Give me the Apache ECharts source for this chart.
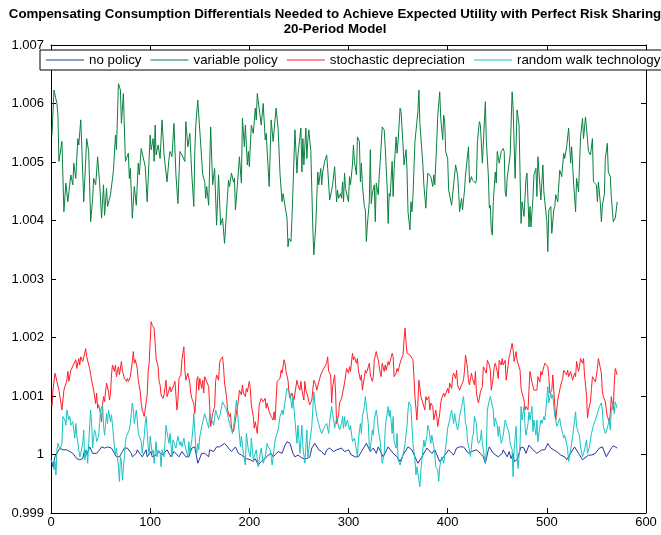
<!DOCTYPE html>
<html><head><meta charset="utf-8">
<script src="https://cdn.jsdelivr.net/npm/echarts@6/dist/echarts.min.js"></script>
<style>html,body{margin:0;padding:0;background:#fff}#c{width:661px;height:535px}</style>
</head><body><div id="c"></div>
<script>
const titleLines = ['Compensating Consumption Differentials Needed to Achieve Expected Utility with Perfect Risk Sharing', '20-Period Model'];
const seriesNames = ['no policy', 'variable policy', 'stochastic depreciation', 'random walk technology'];
const xTicks = [0, 100, 200, 300, 400, 500, 600];
const yTicks = [0.999, 1, 1.001, 1.002, 1.003, 1.004, 1.005, 1.006, 1.007];

const noPolicy = [[0,0.99991],[2,0.99979],[4,0.99996],[6,0.99999],[9,1.00011],[12,1.00008],[16,1.00008],[19,1.00005],[22,1.00002],[26,0.99993],[29,0.99991],[32,0.99993],[34,1.00008],[36,0.99999],[39,1.00013],[42,1.00002],[46,1.00002],[49,1.00008],[51,1.00013],[54,1.00011],[57,1.00013],[61,1.00011],[64,1.00002],[66,0.99996],[69,0.99996],[72,1.00005],[74,1.00011],[77,1.00011],[81,1.00002],[82,0.99996],[86,1.00002],[87,1.00008],[92,0.99996],[96,1.00008],[97,0.99996],[101,1.00005],[102,0.99996],[106,0.99999],[109,1.00005],[112,0.99999],[117,1.00008],[121,0.99996],[124,1.00005],[129,0.99996],[132,1.00005],[136,0.99996],[139,0.99996],[142,1.00011],[145,1.00013],[148,0.99985],[150,0.99985],[152,1.00002],[155,1.00002],[159,0.99996],[160,1.00008],[164,1.00005],[167,1.00013],[170,1.00013],[175,1.00019],[179,1.00011],[182,1.00005],[186,1.00013],[189,1.00002],[192,0.99999],[194,0.99996],[197,0.99993],[201,0.99991],[204,0.99988],[206,0.99993],[209,0.99982],[212,0.99988],[216,0.99993],[219,0.99999],[222,1.00002],[224,0.99996],[229,1.00005],[233,1.00002],[236,1.00016],[238,1.00022],[241,1.00019],[244,1.00002],[246,0.99996],[249,0.99999],[254,0.99993],[258,0.99993],[261,0.99996],[263,1.00011],[266,1.00019],[270,1.00008],[273,1.00005],[276,0.99999],[278,1.00008],[281,1.00011],[285,1.00005],[288,1.00008],[293,1.00011],[296,1.00005],[300,1.00008],[303,0.99999],[307,0.99996],[310,0.99996],[313,1.00005],[318,1.00019],[322,1.00005],[325,1.00011],[328,1.00002],[330,1.00013],[335,0.99996],[340,1.00013],[345,1.00002],[349,0.99996],[352,0.99988],[355,0.99999],[360,1.00013],[364,1.00008],[367,0.99996],[370,0.99985],[374,0.99996],[379,1.00011],[384,1.00002],[387,1.00008],[392,0.99988],[396,0.99996],[401,1.00008],[406,0.99999],[409,1.00011],[412,1.00013],[416,1.00013],[421,1.00002],[424,1.00005],[429,1.00008],[433,1.00002],[436,0.99996],[438,0.99985],[441,1.00008],[442,1.00013],[446,1.00002],[451,0.99996],[455,1.00002],[456,1.00008],[460,0.99996],[462,1.00005],[464,0.99993],[466,1.00002],[467,0.99988],[470,0.99991],[474,1.00013],[477,1.00011],[479,1.00002],[482,1.00016],[486,1.00008],[490,1.00002],[491,0.99999],[495,1.00008],[498,1.00008],[501,1.00019],[504,1.00011],[506,1.00013],[510,1.00005],[514,0.99999],[518,0.99996],[520,0.99991],[524,1.00002],[528,1.00013],[532,1.00002],[536,0.99991],[538,0.99991],[542,0.99999],[545,0.99999],[549,1.00002],[553,1.00011],[556,1.00013],[560,0.99996],[564,1.00008],[567,1.00015],[571,1.00011]];

const variablePolicy = [[1,1.00546],[3,1.00623],[5,1.00623],[6,1.00600],[7,1.00580],[8,1.00501],[11,1.00535],[13,1.00415],[15,1.00464],[17,1.00432],[20,1.00478],[22,1.00461],[23,1.00498],[25,1.00472],[27,1.00540],[28,1.00529],[30,1.00572],[31,1.00529],[33,1.00432],[36,1.00540],[38,1.00518],[40,1.00398],[42,1.00438],[43,1.00472],[45,1.00461],[46,1.00483],[47,1.00509],[49,1.00466],[51,1.00404],[53,1.00461],[54,1.00409],[56,1.00455],[57,1.00424],[60,1.00444],[62,1.00446],[63,1.00486],[65,1.00546],[66,1.00521],[68,1.00634],[70,1.00623],[71,1.00566],[72,1.00569],[73,1.00617],[75,1.00501],[77,1.00498],[78,1.00515],[79,1.00472],[80,1.00489],[82,1.00404],[84,1.00458],[86,1.00426],[88,1.00498],[89,1.00478],[91,1.00523],[93,1.00526],[95,1.00492],[97,1.00432],[100,1.00546],[101,1.00521],[103,1.00540],[104,1.00501],[105,1.00563],[106,1.00512],[108,1.00529],[110,1.00506],[112,1.00572],[114,1.00512],[117,1.00466],[119,1.00506],[120,1.00518],[122,1.00509],[124,1.00566],[126,1.00478],[128,1.00429],[130,1.00518],[132,1.00512],[134,1.00509],[135,1.00501],[136,1.00569],[138,1.00526],[140,1.00549],[142,1.00478],[144,1.00424],[145,1.00518],[146,1.00563],[148,1.00606],[153,1.00478],[155,1.00466],[156,1.00438],[157,1.00458],[159,1.00426],[161,1.00560],[163,1.00461],[165,1.00489],[167,1.00392],[169,1.00478],[171,1.00392],[173,1.00404],[174,1.00401],[175,1.00361],[177,1.00415],[179,1.00469],[180,1.00458],[182,1.00481],[184,1.00466],[185,1.00472],[186,1.00418],[188,1.00461],[190,1.00509],[192,1.00464],[193,1.00575],[195,1.00526],[196,1.00563],[198,1.00495],[199,1.00518],[200,1.00492],[202,1.00563],[204,1.00549],[206,1.00592],[207,1.00572],[208,1.00617],[210,1.00615],[212,1.00563],[214,1.00600],[216,1.00538],[217,1.00549],[220,1.00458],[222,1.00572],[224,1.00535],[225,1.00538],[227,1.00592],[229,1.00558],[231,1.00478],[233,1.00432],[234,1.00446],[236,1.00446],[238,1.00404],[239,1.00355],[240,1.00369],[242,1.00364],[243,1.00404],[246,1.00555],[248,1.00481],[249,1.00512],[252,1.00558],[253,1.00483],[254,1.00540],[255,1.00495],[257,1.00558],[258,1.00506],[259,1.00538],[260,1.00555],[262,1.00518],[264,1.00387],[265,1.00341],[267,1.00392],[269,1.00483],[270,1.00461],[272,1.00489],[273,1.00461],[274,1.00483],[276,1.00501],[278,1.00512],[279,1.00489],[281,1.00435],[283,1.00452],[284,1.00461],[286,1.00492],[288,1.00432],[289,1.00452],[290,1.00438],[292,1.00446],[293,1.00438],[294,1.00466],[295,1.00432],[296,1.00481],[297,1.00455],[299,1.00452],[300,1.00432],[301,1.00475],[302,1.00461],[304,1.00495],[305,1.00529],[306,1.00501],[308,1.00478],[309,1.00543],[311,1.00535],[312,1.00466],[313,1.00498],[314,1.00461],[316,1.00424],[317,1.00418],[318,1.00364],[319,1.00392],[321,1.00432],[322,1.00521],[323,1.00429],[324,1.00446],[325,1.00446],[326,1.00461],[327,1.00398],[328,1.00464],[330,1.00444],[331,1.00478],[332,1.00501],[333,1.00498],[334,1.00560],[336,1.00555],[337,1.00526],[339,1.00455],[340,1.00395],[341,1.00446],[342,1.00441],[344,1.00501],[345,1.00441],[346,1.00489],[348,1.00543],[349,1.00515],[350,1.00535],[352,1.00592],[353,1.00586],[355,1.00529],[356,1.00495],[358,1.00521],[359,1.00486],[360,1.00415],[362,1.00384],[363,1.00432],[364,1.00415],[365,1.00441],[366,1.00438],[367,1.00535],[369,1.00569],[370,1.00586],[371,1.00623],[372,1.00566],[373,1.00569],[375,1.00495],[376,1.00461],[377,1.00441],[378,1.00421],[379,1.00455],[380,1.00481],[382,1.00483],[383,1.00475],[385,1.00458],[386,1.00478],[387,1.00461],[389,1.00535],[390,1.00580],[392,1.00620],[393,1.00575],[395,1.00538],[396,1.00580],[397,1.00569],[398,1.00518],[400,1.00506],[401,1.00452],[402,1.00449],[404,1.00426],[405,1.00444],[407,1.00441],[408,1.00495],[410,1.00478],[411,1.00452],[412,1.00415],[414,1.00438],[415,1.00418],[417,1.00452],[418,1.00478],[420,1.00478],[421,1.00526],[422,1.00464],[424,1.00475],[425,1.00469],[426,1.00472],[428,1.00464],[429,1.00469],[430,1.00535],[432,1.00569],[433,1.00563],[435,1.00498],[436,1.00498],[438,1.00603],[439,1.00535],[441,1.00478],[442,1.00421],[443,1.00426],[444,1.00384],[445,1.00375],[446,1.00432],[448,1.00483],[449,1.00464],[450,1.00518],[452,1.00498],[454,1.00518],[456,1.00523],[457,1.00518],[458,1.00449],[459,1.00441],[460,1.00472],[463,1.00512],[465,1.00620],[466,1.00592],[468,1.00472],[470,1.00589],[472,1.00563],[474,1.00395],[475,1.00432],[477,1.00407],[479,1.00472],[480,1.00481],[482,1.00389],[483,1.00424],[484,1.00389],[486,1.00438],[487,1.00478],[489,1.00489],[490,1.00441],[491,1.00509],[494,1.00435],[496,1.00495],[497,1.00449],[498,1.00452],[500,1.00398],[501,1.00347],[502,1.00418],[504,1.00424],[505,1.00378],[507,1.00418],[508,1.00424],[509,1.00444],[511,1.00432],[513,1.00486],[515,1.00475],[517,1.00515],[518,1.00506],[520,1.00526],[522,1.00558],[524,1.00498],[525,1.00526],[527,1.00464],[528,1.00461],[529,1.00415],[530,1.00472],[532,1.00449],[534,1.00543],[535,1.00540],[536,1.00575],[537,1.00540],[539,1.00577],[540,1.00558],[542,1.00518],[544,1.00512],[546,1.00540],[547,1.00466],[548,1.00466],[550,1.00461],[551,1.00432],[552,1.00466],[554,1.00429],[555,1.00398],[556,1.00426],[558,1.00444],[559,1.00506],[561,1.00532],[562,1.00483],[564,1.00475],[565,1.00441],[567,1.00398],[569,1.00404],[571,1.00432]];

const stochasticDepreciation = [[1,1.00082],[2,1.00110],[4,1.00139],[6,1.00125],[8,1.00110],[11,1.00076],[13,1.00110],[16,1.00127],[17,1.00142],[18,1.00125],[20,1.00144],[22,1.00144],[25,1.00162],[26,1.00147],[28,1.00164],[29,1.00153],[30,1.00167],[32,1.00159],[34,1.00173],[35,1.00181],[36,1.00167],[39,1.00147],[41,1.00127],[43,1.00110],[45,1.00087],[46,1.00105],[47,1.00079],[48,1.00085],[50,1.00070],[51,1.00056],[52,1.00085],[53,1.00099],[54,1.00090],[55,1.00107],[56,1.00122],[58,1.00107],[59,1.00093],[60,1.00105],[61,1.00136],[62,1.00153],[64,1.00142],[65,1.00153],[66,1.00133],[67,1.00142],[68,1.00150],[69,1.00136],[71,1.00159],[72,1.00144],[74,1.00130],[76,1.00125],[77,1.00130],[78,1.00125],[80,1.00133],[82,1.00159],[83,1.00176],[84,1.00156],[85,1.00162],[87,1.00147],[88,1.00127],[90,1.00107],[91,1.00087],[92,1.00076],[93,1.00076],[94,1.00065],[96,1.00065],[97,1.00102],[98,1.00142],[99,1.00156],[100,1.00193],[101,1.00227],[102,1.00221],[104,1.00216],[105,1.00190],[106,1.00164],[108,1.00150],[109,1.00125],[110,1.00119],[111,1.00102],[113,1.00096],[114,1.00102],[116,1.00127],[117,1.00099],[118,1.00096],[120,1.00116],[121,1.00107],[122,1.00105],[124,1.00119],[125,1.00125],[127,1.00076],[128,1.00093],[129,1.00130],[131,1.00136],[132,1.00162],[133,1.00162],[134,1.00184],[135,1.00144],[136,1.00127],[138,1.00139],[140,1.00122],[141,1.00105],[142,1.00096],[144,1.00087],[145,1.00070],[146,1.00093],[147,1.00127],[148,1.00133],[149,1.00110],[150,1.00130],[152,1.00113],[153,1.00127],[154,1.00105],[155,1.00133],[156,1.00130],[157,1.00133],[159,1.00116],[160,1.00082],[161,1.00048],[163,1.00070],[164,1.00076],[165,1.00082],[166,1.00125],[167,1.00136],[169,1.00127],[170,1.00156],[171,1.00162],[173,1.00167],[174,1.00150],[175,1.00122],[177,1.00099],[178,1.00076],[180,1.00065],[181,1.00070],[182,1.00045],[184,1.00039],[185,1.00048],[186,1.00050],[188,1.00082],[189,1.00093],[190,1.00110],[192,1.00102],[193,1.00119],[194,1.00105],[196,1.00099],[197,1.00113],[198,1.00107],[200,1.00125],[201,1.00113],[202,1.00085],[204,1.00065],[205,1.00045],[206,1.00056],[208,1.00036],[209,1.00059],[210,1.00085],[212,1.00096],[213,1.00093],[214,1.00090],[216,1.00096],[217,1.00079],[218,1.00088],[220,1.00073],[221,1.00076],[222,1.00065],[224,1.00059],[225,1.00073],[226,1.00059],[228,1.00125],[229,1.00122],[231,1.00130],[232,1.00144],[233,1.00139],[235,1.00162],[236,1.00156],[237,1.00142],[239,1.00127],[240,1.00105],[241,1.00096],[243,1.00105],[244,1.00099],[245,1.00093],[247,1.00096],[248,1.00127],[249,1.00119],[251,1.00110],[252,1.00125],[253,1.00110],[255,1.00093],[256,1.00125],[257,1.00110],[259,1.00099],[260,1.00090],[261,1.00085],[263,1.00093],[264,1.00110],[265,1.00127],[267,1.00119],[268,1.00110],[270,1.00107],[271,1.00130],[272,1.00136],[274,1.00144],[275,1.00147],[276,1.00142],[278,1.00156],[279,1.00167],[280,1.00142],[282,1.00136],[283,1.00088],[284,1.00116],[286,1.00136],[287,1.00105],[288,1.00053],[290,1.00068],[291,1.00088],[293,1.00096],[295,1.00093],[296,1.00122],[298,1.00147],[300,1.00139],[301,1.00150],[302,1.00142],[304,1.00173],[305,1.00162],[306,1.00167],[308,1.00156],[309,1.00164],[310,1.00144],[312,1.00127],[313,1.00136],[314,1.00110],[316,1.00133],[317,1.00144],[318,1.00139],[320,1.00150],[321,1.00156],[322,1.00136],[324,1.00125],[325,1.00133],[326,1.00162],[328,1.00176],[329,1.00167],[330,1.00162],[332,1.00139],[333,1.00133],[334,1.00156],[336,1.00142],[337,1.00153],[338,1.00144],[340,1.00159],[341,1.00153],[342,1.00156],[344,1.00173],[345,1.00167],[346,1.00133],[348,1.00139],[349,1.00147],[350,1.00142],[352,1.00156],[353,1.00162],[355,1.00170],[356,1.00196],[357,1.00216],[358,1.00193],[359,1.00173],[361,1.00170],[362,1.00170],[363,1.00167],[365,1.00162],[366,1.00133],[367,1.00099],[369,1.00059],[370,1.00088],[371,1.00127],[373,1.00099],[374,1.00102],[375,1.00088],[377,1.00076],[378,1.00099],[379,1.00093],[381,1.00099],[382,1.00076],[383,1.00088],[385,1.00082],[386,1.00059],[388,1.00076],[389,1.00065],[390,1.00048],[392,1.00070],[393,1.00088],[394,1.00096],[396,1.00105],[397,1.00099],[398,1.00102],[400,1.00113],[401,1.00105],[402,1.00122],[404,1.00113],[405,1.00133],[406,1.00139],[408,1.00130],[409,1.00144],[410,1.00119],[412,1.00110],[413,1.00110],[414,1.00119],[416,1.00127],[417,1.00144],[418,1.00170],[420,1.00147],[421,1.00125],[422,1.00119],[424,1.00139],[425,1.00130],[427,1.00119],[428,1.00142],[429,1.00105],[431,1.00088],[432,1.00096],[433,1.00107],[435,1.00116],[436,1.00150],[437,1.00153],[439,1.00139],[440,1.00161],[442,1.00153],[443,1.00144],[444,1.00110],[446,1.00133],[447,1.00150],[448,1.00156],[450,1.00142],[451,1.00130],[452,1.00161],[454,1.00153],[455,1.00164],[456,1.00153],[458,1.00161],[459,1.00127],[460,1.00139],[462,1.00167],[463,1.00173],[465,1.00190],[466,1.00179],[467,1.00159],[469,1.00176],[470,1.00161],[471,1.00159],[473,1.00144],[474,1.00113],[475,1.00105],[477,1.00093],[478,1.00076],[479,1.00082],[481,1.00076],[482,1.00110],[483,1.00142],[485,1.00124],[486,1.00127],[487,1.00110],[489,1.00113],[490,1.00110],[491,1.00133],[493,1.00124],[494,1.00142],[495,1.00136],[497,1.00150],[498,1.00156],[499,1.00159],[501,1.00150],[502,1.00133],[503,1.00105],[505,1.00110],[506,1.00136],[507,1.00110],[509,1.00059],[510,1.00076],[511,1.00093],[513,1.00110],[514,1.00119],[516,1.00130],[517,1.00144],[518,1.00142],[520,1.00136],[521,1.00144],[522,1.00133],[524,1.00142],[525,1.00139],[526,1.00127],[528,1.00139],[529,1.00133],[530,1.00159],[532,1.00142],[533,1.00150],[534,1.00164],[536,1.00156],[537,1.00164],[538,1.00136],[540,1.00102],[541,1.00062],[542,1.00076],[544,1.00090],[545,1.00113],[546,1.00133],[548,1.00136],[549,1.00124],[551,1.00147],[552,1.00164],[553,1.00167],[555,1.00139],[556,1.00107],[557,1.00099],[559,1.00090],[560,1.00076],[561,1.00065],[563,1.00056],[564,1.00070],[565,1.00099],[567,1.00076],[568,1.00122],[569,1.00147],[571,1.00136]];

const randomWalkTechnology = [[0,0.99991],[2,0.99985],[3,0.99974],[4,0.99988],[5,0.99965],[6,1.00008],[7,1.00019],[9,1.00008],[11,1.00019],[12,1.00065],[14,1.00059],[15,1.00050],[16,1.00076],[18,1.00059],[19,1.00065],[20,1.00050],[22,1.00056],[23,1.00042],[24,1.00028],[25,1.00053],[26,1.00033],[28,1.00008],[29,0.99996],[30,1.00002],[32,1.00019],[33,1.00042],[34,0.99991],[36,1.00008],[37,0.99985],[38,1.00019],[40,1.00076],[41,1.00053],[42,1.00011],[43,1.00031],[44,1.00042],[45,1.00036],[46,1.00022],[48,1.00031],[49,1.00053],[50,1.00076],[52,1.00085],[53,1.00050],[54,1.00033],[56,1.00070],[57,1.00053],[58,1.00076],[60,1.00056],[61,1.00068],[62,1.00050],[64,1.00013],[65,0.99999],[66,1.00011],[68,0.99979],[69,0.99954],[70,0.99996],[71,0.99988],[72,0.99956],[74,0.99996],[75,1.00019],[76,1.00031],[78,1.00028],[79,1.00042],[80,1.00053],[82,1.00088],[83,1.00076],[84,1.00053],[86,1.00076],[87,1.00059],[88,1.00036],[90,1.00039],[91,1.00022],[92,1.00002],[94,1.00031],[95,1.00053],[96,1.00065],[98,1.00013],[99,0.99999],[100,1.00031],[102,1.00002],[103,1.00008],[104,0.99985],[106,1.00022],[107,0.99996],[108,1.00008],[110,1.00002],[111,0.99979],[112,1.00008],[114,0.99996],[115,1.00022],[116,1.00050],[118,1.00028],[119,1.00019],[120,1.00036],[122,0.99996],[123,1.00025],[124,1.00028],[126,1.00011],[127,1.00022],[128,1.00031],[130,1.00016],[131,1.00022],[132,1.00013],[134,1.00028],[135,1.00016],[136,1.00019],[138,0.99996],[139,1.00022],[140,1.00002],[142,1.00025],[143,1.00042],[144,1.00070],[146,1.00011],[147,1.00002],[148,1.00019],[149,1.00008],[150,1.00030],[152,1.00048],[155,1.00070],[159,1.00045],[160,1.00070],[162,1.00059],[164,1.00050],[166,1.00076],[169,1.00059],[170,1.00065],[173,1.00090],[175,1.00093],[177,1.00076],[180,1.00053],[182,1.00042],[183,1.00036],[185,1.00059],[187,1.00093],[189,1.00053],[191,1.00013],[192,1.00031],[194,1.00002],[196,0.99982],[197,1.00036],[199,1.00008],[201,0.99996],[202,1.00028],[204,0.99991],[206,0.99988],[207,1.00008],[209,0.99979],[211,1.00002],[212,1.00011],[214,0.99985],[216,0.99996],[218,1.00019],[219,1.00013],[221,1.00008],[223,0.99982],[224,0.99996],[226,1.00025],[229,1.00042],[231,1.00065],[233,1.00076],[234,1.00068],[238,1.00113],[239,1.00113],[241,1.00105],[243,1.00079],[244,1.00099],[246,1.00059],[248,1.00019],[249,1.00050],[251,1.00002],[253,1.00050],[254,1.00013],[256,0.99985],[258,1.00042],[259,0.99996],[261,0.99996],[263,1.00048],[265,1.00107],[266,1.00088],[268,1.00065],[270,1.00053],[271,1.00045],[273,1.00036],[275,1.00033],[276,1.00048],[278,1.00053],[280,1.00036],[281,1.00056],[283,1.00082],[285,1.00059],[286,1.00045],[288,1.00062],[290,1.00065],[291,1.00042],[293,1.00053],[294,1.00065],[295,1.00045],[296,1.00065],[297,1.00048],[299,1.00059],[300,1.00050],[301,1.00042],[302,1.00050],[304,1.00022],[305,1.00019],[306,1.00028],[308,1.00008],[309,0.99996],[310,1.00025],[312,1.00053],[313,1.00036],[314,1.00065],[316,1.00082],[317,1.00099],[318,1.00082],[320,1.00053],[321,1.00013],[322,1.00008],[324,1.00042],[325,1.00033],[326,1.00059],[328,1.00076],[329,1.00065],[330,1.00042],[332,1.00022],[333,1.00002],[334,0.99985],[336,1.00002],[337,1.00042],[338,1.00059],[340,1.00082],[341,1.00065],[342,1.00076],[344,1.00036],[345,1.00065],[346,1.00022],[348,1.00011],[349,1.00036],[350,0.99991],[352,0.99982],[353,0.99985],[355,0.99999],[356,1.00008],[357,1.00019],[359,1.00048],[360,1.00076],[361,1.00090],[363,1.00082],[364,1.00048],[365,1.00019],[367,0.99991],[368,0.99965],[369,0.99979],[371,0.99956],[372,0.99945],[373,0.99974],[375,1.00008],[376,1.00025],[377,1.00013],[379,1.00031],[380,1.00050],[381,1.00045],[383,1.00019],[384,1.00033],[386,1.00013],[387,1.00002],[388,0.99979],[390,0.99974],[391,0.99954],[392,0.99979],[394,0.99996],[395,0.99996],[396,0.99985],[398,1.00013],[399,1.00028],[400,1.00045],[402,1.00059],[403,1.00070],[404,1.00076],[406,1.00053],[407,1.00070],[408,1.00059],[410,1.00042],[411,1.00050],[412,1.00065],[414,1.00082],[415,1.00090],[416,1.00099],[418,1.00053],[419,1.00048],[420,1.00022],[422,1.00008],[423,0.99996],[425,1.00031],[426,1.00036],[427,1.00065],[429,1.00053],[430,1.00025],[431,1.00019],[433,1.00025],[434,1.00042],[435,1.00019],[437,0.99996],[438,0.99985],[439,1.00008],[440,1.00076],[442,1.00093],[443,1.00099],[444,1.00096],[446,1.00076],[447,1.00048],[448,1.00062],[450,1.00050],[451,1.00031],[452,1.00048],[454,1.00019],[455,1.00025],[456,1.00033],[458,1.00059],[459,1.00053],[461,1.00050],[462,1.00036],[463,1.00019],[465,1.00008],[466,0.99962],[467,1.00008],[469,1.00048],[470,0.99996],[471,0.99976],[473,1.00019],[474,1.00082],[475,1.00059],[477,1.00082],[478,1.00048],[479,1.00033],[481,1.00053],[482,1.00073],[483,1.00059],[485,1.00082],[486,1.00039],[487,1.00059],[489,1.00033],[490,1.00059],[491,1.00022],[493,1.00048],[494,1.00059],[495,1.00053],[497,1.00065],[498,1.00059],[499,1.00076],[501,1.00116],[502,1.00088],[504,1.00105],[505,1.00096],[506,1.00102],[508,1.00065],[509,1.00059],[510,1.00048],[512,1.00050],[513,1.00062],[514,1.00050],[516,1.00036],[517,1.00028],[518,1.00033],[520,1.00019],[521,1.00008],[522,0.99988],[524,1.00008],[525,1.00019],[526,1.00031],[528,1.00059],[529,1.00073],[530,1.00048],[532,1.00036],[533,1.00031],[534,1.00013],[536,0.99996],[537,1.00002],[538,1.00008],[540,1.00025],[541,1.00002],[543,1.00013],[544,1.00025],[545,1.00036],[547,1.00050],[548,1.00053],[549,1.00059],[551,1.00062],[552,1.00076],[553,1.00082],[555,1.00088],[556,1.00076],[557,1.00048],[559,1.00036],[560,1.00039],[561,1.00045],[563,1.00059],[564,1.00042],[565,1.00076],[567,1.00088],[568,1.00070],[569,1.00090],[571,1.00079]];

const colors = ['#26389a', '#0a8140', '#ff1f28', '#19c2c2'];
const FONT = '"Liberation Sans", Arial, Helvetica, sans-serif';
const fmt = v => String(parseFloat(v.toFixed(3)));

const chart = echarts.init(document.getElementById('c'), null, {renderer: 'canvas'});
const axisCommon = {
  axisLine: {show: true, onZero: false, lineStyle: {color: '#000', width: 1}},
  axisTick: {show: true, inside: true, length: 5, lineStyle: {color: '#000'}},
  splitLine: {show: false}
};
const dataSets = [noPolicy, variablePolicy, stochasticDepreciation, randomWalkTechnology];
chart.setOption({
  animation: false,
  backgroundColor: '#fff',
  textStyle: {fontFamily: FONT},
  title: {
    text: titleLines.join('\n'),
    left: 330, top: 2, textAlign: 'center',
    textStyle: {fontFamily: FONT, fontSize: 13.3, fontWeight: 'bold', color: '#000', lineHeight: 15}
  },
  legend: {
    data: seriesNames,
    left: 40, top: 50, width: 900,
    orient: 'horizontal',
    backgroundColor: '#fff', borderColor: '#000', borderWidth: 1,
    padding: [2, 6, 2, 6],
    itemGap: 9, itemWidth: 38, itemHeight: 1,
    icon: 'rect',
    textStyle: {fontFamily: FONT, fontSize: 13.3, color: '#000', lineHeight: 16}
  },
  grid: {left: 51, right: 15, top: 45, bottom: 22, containLabel: false},
  xAxis: [
    Object.assign({type: 'value', position: 'bottom', min: xTicks[0], max: xTicks[xTicks.length - 1], interval: 100,
      axisLabel: {color: '#000', fontSize: 13, fontFamily: FONT, margin: 3}}, axisCommon),
    Object.assign({type: 'value', position: 'top', min: xTicks[0], max: xTicks[xTicks.length - 1], interval: 100,
      axisLabel: {show: false}}, axisCommon)
  ],
  yAxis: [
    Object.assign({type: 'value', position: 'left', min: yTicks[0], max: yTicks[yTicks.length - 1], interval: 0.001,
      axisLabel: {color: '#000', fontSize: 13, fontFamily: FONT, margin: 7, formatter: fmt}}, axisCommon),
    Object.assign({type: 'value', position: 'right', min: yTicks[0], max: yTicks[yTicks.length - 1], interval: 0.001,
      axisLabel: {show: false}}, axisCommon)
  ],
  series: seriesNames.map((n, i) => ({
    name: n, type: 'line', data: dataSets[i], xAxisIndex: 0, yAxisIndex: 0,
    showSymbol: false, symbol: 'none', smooth: false,
    lineStyle: {color: colors[i], width: 1}, itemStyle: {color: colors[i]}
  }))
});
</script></body></html>
